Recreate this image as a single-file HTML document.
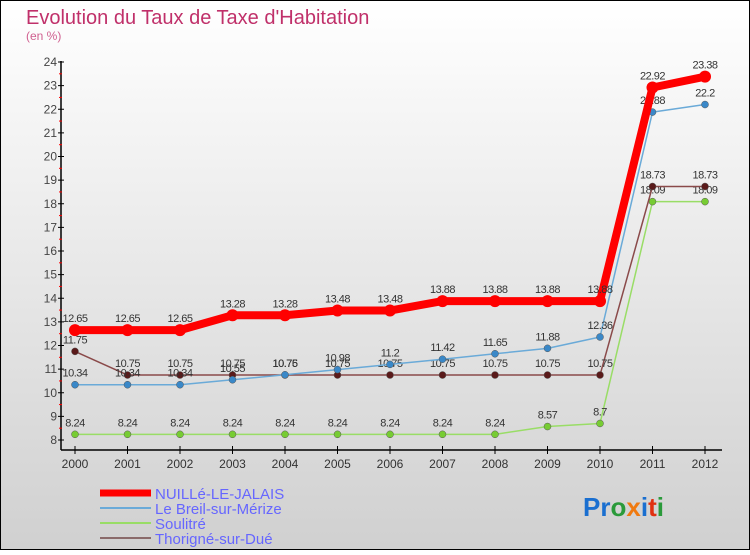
<!DOCTYPE html>
<html><head><meta charset="utf-8"><style>
body{margin:0;width:750px;height:550px;overflow:hidden;font-family:"Liberation Sans",sans-serif}
</style></head><body>
<svg width="750" height="550" xmlns="http://www.w3.org/2000/svg">
<defs><linearGradient id="bg" x1="0" y1="0" x2="0" y2="1"><stop offset="0" stop-color="#ffffff"/><stop offset="1" stop-color="#d0d0d0"/></linearGradient></defs>
<rect x="0.5" y="0.5" width="749" height="549" fill="url(#bg)" stroke="#000"/>
<text x="26" y="24" font-size="20" fill="#c0306a">Evolution du Taux de Taxe d'Habitation</text>
<text x="26" y="40" font-size="12" fill="#d06090">(en %)</text>
<g id="axes"></g><g id="plot"></g><g id="legend"></g>
<g font-size="26" font-weight="bold" font-family="Liberation Sans, sans-serif">
<text x="583" y="516"><tspan fill="#1a6fd0">Pr</tspan><tspan fill="#2a9a3a">o</tspan><tspan fill="#f07a10">x</tspan><tspan fill="#1a6fd0">i</tspan><tspan fill="#e03010">t</tspan><tspan fill="#2a9a3a">i</tspan></text></g>
</svg>
<script>
const years=[2000,2001,2002,2003,2004,2005,2006,2007,2008,2009,2010,2011,2012];
const nuille=[12.65,12.65,12.65,13.28,13.28,13.48,13.48,13.88,13.88,13.88,13.88,22.92,23.38];
const breil=[10.34,10.34,10.34,10.55,10.76,10.98,11.2,11.42,11.65,11.88,12.36,21.88,22.2];
const soulitre=[8.24,8.24,8.24,8.24,8.24,8.24,8.24,8.24,8.24,8.57,8.7,18.09,18.09];
const thorigne=[11.75,10.75,10.75,10.75,10.75,10.75,10.75,10.75,10.75,10.75,10.75,18.73,18.73];
const yTicks=[8,9,10,11,12,13,14,15,16,17,18,19,20,21,22,23,24];
const NS='http://www.w3.org/2000/svg';
const X=i=>75+i*52.5, Y=v=>440-(v-8)*23.625;
function mk(t,a,p){const e=document.createElementNS(NS,t);for(const k in a)e.setAttribute(k,a[k]);p.appendChild(e);return e;}
const ax=document.getElementById('axes');
let l=mk('line',{x1:61,y1:61,x2:61,y2:450,stroke:'#000','stroke-width':1.5},ax);


l=mk('line',{x1:61,y1:450,x2:722,y2:450,stroke:'#000','stroke-width':1.5},ax);


yTicks.forEach(v=>{mk('line',{x1:58,y1:Y(v),x2:64,y2:Y(v),stroke:'#000'},ax);
if(v<24)mk('line',{x1:59,y1:Y(v+0.5),x2:62,y2:Y(v+0.5),stroke:'#f00'},ax);
const t=mk('text',{x:57,y:Y(v)+4,'text-anchor':'end','font-size':12,fill:'#444'},ax);t.textContent=v;

});
years.forEach((y,i)=>{mk('line',{x1:X(i),y1:446,x2:X(i),y2:454,stroke:'#000'},ax);
const t=mk('text',{x:X(i),y:468,'text-anchor':'middle','font-size':12,fill:'#333'},ax);t.textContent=y;

});
const plot=document.getElementById('plot');
const series=[[soulitre,'#99dd66','#77cc33',1.5,'soulitre'],[thorigne,'#8a4a4a','#5a1a1a',1.5,'thorigne'],[breil,'#6aaad8','#3a88c8',1.5,'breil'],[nuille,'#ff0000','#ff0000',8,'nuille']];
series.forEach(([d,c,m,w,n])=>{
const g=mk('g',{},plot);
const p=mk('polyline',{points:d.map((v,i)=>X(i)+','+Y(v)).join(' '),fill:'none',stroke:c,'stroke-width':w,'stroke-linejoin':'round'},g);


d.forEach((v,i)=>{const c2=mk('circle',{cx:X(i),cy:Y(v),r:w>2?6:3.5,fill:m,stroke:w>2?'none':'#555','stroke-width':0.5},g);


const t=mk('text',{x:X(i),y:Y(v)-8,'text-anchor':'middle','font-size':11,fill:'#333','letter-spacing':'-0.5'},g);t.textContent=v;

});});
const lg=document.getElementById('legend');
[['NUILLé-LE-JALAIS','#ff0000',7],['Le Breil-sur-Mérize','#6aaad8',2],['Soulitré','#99dd66',2],['Thorigné-sur-Dué','#8a6a6a',2]].forEach(([n,c,w],i)=>{
const y=493+i*15;
const g=mk('g',{},lg);
mk('line',{x1:100,y1:y,x2:151,y2:y,stroke:c,'stroke-width':w},g);
const t=mk('text',{x:155,y:y+6,'font-size':15,fill:'#6666ff'},g);t.textContent=n;});
</script>
</body></html>
